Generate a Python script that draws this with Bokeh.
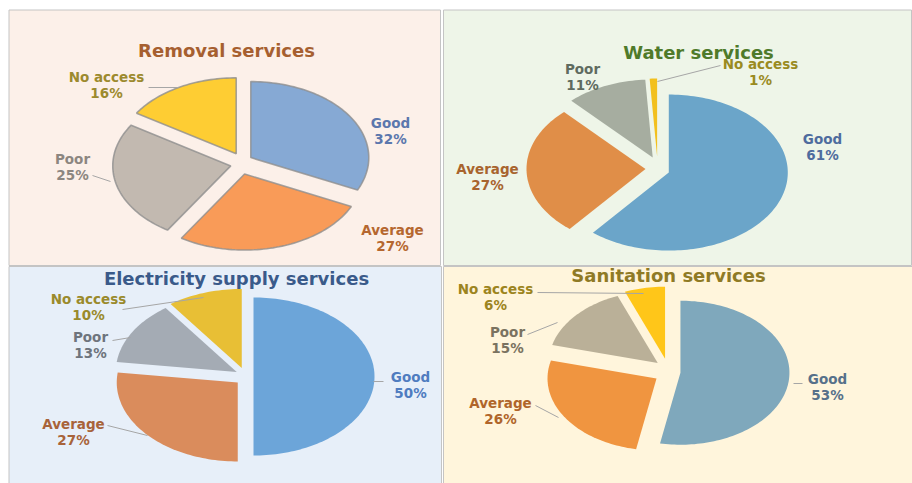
import numpy as np
from bokeh.plotting import figure
from bokeh.models import Range1d, ColumnDataSource
from bokeh.embed import file_html
from bokeh.resources import INLINE
from bokeh.core.properties import value

# ---------------- data ----------------
categories = ["Good", "Average", "Poor", "No access"]
removal = [32, 27, 25, 16]
water = [61, 27, 11, 1]
electricity = [50, 27, 13, 10]
sanitation = [53, 26, 15, 6]
titles = ["Removal services", "Water services",
          "Electricity supply services", "Sanitation services"]
series = [removal, water, electricity, sanitation]

# ---------------- layout / styles (screen pixel coordinates) ----------------
panels = [
    dict(box=(8.5, 440, 9.5, 265), bg="#FCF0E9", title_xy=(226, 50), title_color="#A65F30",
         cx=241, cy=163, rx=118, ry=76, explode=11,
         colors=["#86A9D4", "#F99B58", "#C2B9B0", "#FECD33"],
         edge="#8E8E8E", edge_w=1.6,
         text_colors=["#5B77AD", "#B5672F", "#8C8680", "#9C8A2E"],
         labels=[(390, 122), (392, 229), (72, 158), (106, 76)],
         leaders=[None, None, ((92, 175), (110, 181)), ((148, 87), (178, 87))]),
    dict(box=(443, 911, 9.5, 265), bg="#EEF5E8", title_xy=(698, 52), title_color="#4F7A2A",
         cx=657, cy=168, rx=119, ry=78, explode=12,
         colors=["#6BA5C9", "#E08E48", "#A6ADA0", "#F2C01E"],
         edge=None, edge_w=0,
         text_colors=["#4E6C9E", "#A8642E", "#5F6B5F", "#9A8B1F"],
         labels=[(822, 138), (487, 168), (582, 68), (760, 63)],
         leaders=[None, None, None, ((657, 81), (720, 65))]),
    dict(box=(8.5, 441, 266, 483), bg="#E7EFF9", title_xy=(236, 278), title_color="#3A5A8A",
         cx=244, cy=376, rx=121, ry=79, explode=9,
         colors=["#6CA5D9", "#DA8C5C", "#A4ABB4", "#E8BF35"],
         edge=None, edge_w=0,
         text_colors=["#4F7CC0", "#A8633A", "#6E747D", "#9A8A2C"],
         labels=[(410, 376), (73, 423), (90, 336), (88, 298)],
         leaders=[((373, 381), (383, 381)), ((107, 425), (147, 435)),
                  ((112, 340), (130, 337)), ((122, 309), (203, 297))]),
    dict(box=(443, 912, 266, 483), bg="#FFF5DC", title_xy=(668, 275), title_color="#8F7A25",
         cx=667, cy=371, rx=109, ry=72, explode=13,
         colors=["#7FA8BC", "#F09540", "#BAB098", "#FFC619"],
         edge=None, edge_w=0,
         text_colors=["#56708A", "#B0652A", "#7A7260", "#9C8420"],
         labels=[(827, 378), (500, 402), (507, 331), (495, 288)],
         leaders=[((793, 383), (802, 383)), ((535, 405), (558, 417)),
                  ((527, 334), (557, 322)), ((537, 292), (643, 293))]),
]

FONT = value("DejaVu Sans")

p = figure(width=912, height=483, x_range=Range1d(0, 912), y_range=Range1d(483, 0),
           x_axis_type=None, y_axis_type=None, min_border=0,
           toolbar_location=None, output_backend="svg")
p.grid.visible = False
p.outline_line_color = None
p.background_fill_color = "white"
p.border_fill_color = "white"

for lay, vals, title in zip(panels, series, titles):
    l, r, t, b = lay["box"]
    p.quad(left=[l], right=[r], top=[t], bottom=[b], fill_color=lay["bg"],
           line_color="#C4C4C4", line_width=1)

    # slices
    total = float(sum(vals))
    xs, ys = [], []
    start = 0.0
    for v in vals:
        frac = v / total
        a0 = start * 2 * np.pi
        a1 = (start + frac) * 2 * np.pi
        mid = (a0 + a1) / 2
        ox = lay["cx"] + lay["explode"] * np.sin(mid)
        oy = lay["cy"] - lay["explode"] * np.cos(mid)
        tt = np.linspace(a0, a1, max(4, int(frac * 240)))
        px = np.concatenate([[ox], ox + lay["rx"] * np.sin(tt)])
        py = np.concatenate([[oy], oy - lay["ry"] * np.cos(tt)])
        xs.append(px.tolist())
        ys.append(py.tolist())
        start += frac
    src = ColumnDataSource(dict(xs=xs, ys=ys, color=lay["colors"]))
    if lay["edge"]:
        p.patches("xs", "ys", source=src, fill_color="color",
                  line_color=lay["edge"], line_width=lay["edge_w"], line_alpha=0.8)
    else:
        p.patches("xs", "ys", source=src, fill_color="color", line_color=None)

    # leaders
    lx, ly = [], []
    for ld in lay["leaders"]:
        if ld is not None:
            lx.append([ld[0][0], ld[1][0]])
            ly.append([ld[0][1], ld[1][1]])
    if lx:
        p.multi_line(lx, ly, line_color="#A6A6A6", line_width=1)

    # labels
    names = categories
    pcts = [f"{v}%" for v in vals]
    lxs = [q[0] for q in lay["labels"]]
    l1 = [q[1] for q in lay["labels"]]
    l2 = [q[1] + 16 for q in lay["labels"]]
    p.text(x=lxs, y=l1, text=names, text_color=lay["text_colors"], text_align="center",
           text_baseline="middle", text_font=FONT, text_font_style="bold",
           text_font_size="13.5px")
    p.text(x=lxs, y=l2, text=pcts, text_color=lay["text_colors"], text_align="center",
           text_baseline="middle", text_font=FONT, text_font_style="bold",
           text_font_size="13.5px")

    # title
    p.text(x=[lay["title_xy"][0]], y=[lay["title_xy"][1]], text=[title],
           text_color=lay["title_color"], text_align="center", text_baseline="middle",
           text_font=FONT, text_font_style="bold", text_font_size="18px")

open("out.html", "w").write(file_html(p, INLINE))
